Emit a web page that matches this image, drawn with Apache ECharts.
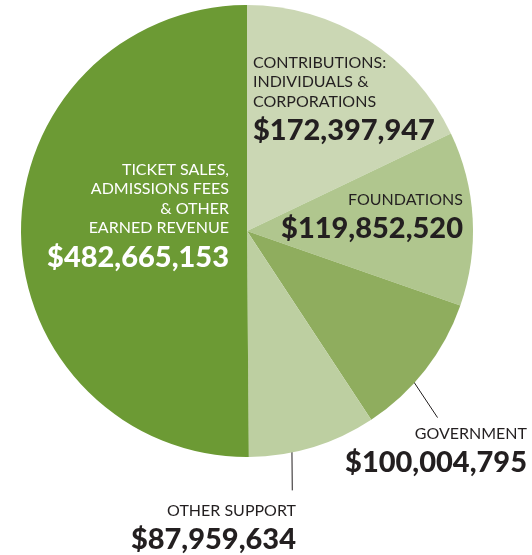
<!DOCTYPE html>
<html>
<head>
<meta charset="utf-8">
<style>
  html, body { margin: 0; padding: 0; background: #ffffff; }
  #chart { width: 532px; height: 555px; }
</style>
<script src="https://cdn.jsdelivr.net/npm/echarts@6/dist/echarts.min.js"></script>
</head>
<body>
<div id="chart"></div>
<script>
// Revenue sources, clockwise from 12 o'clock
const categories = [
  'CONTRIBUTIONS:\nINDIVIDUALS &\nCORPORATIONS',
  'FOUNDATIONS',
  'GOVERNMENT',
  'OTHER SUPPORT',
  'TICKET SALES,\nADMISSIONS FEES\n& OTHER\nEARNED REVENUE'
];
const amounts = [172397947, 119852520, 100004795, 87959634, 482665153];
const sliceColors = ['#cbd7b4', '#b0c68e', '#8fad5e', '#bdcfa1', '#6c9a34'];

// Pie geometry
const CENTER = [247, 231];
const RADIUS = 226;

// Label anchor per slice: x, y (top of text block), alignment, text colour
const labelSpots = [
  { x: 253, y: 53, align: 'left', color: '#231f20' },
  { x: 463, y: 190, align: 'right', color: '#231f20' },
  { x: 527, y: 424, align: 'right', color: '#231f20' },
  { x: 296, y: 501, align: 'right', color: '#231f20' },
  { x: 229, y: 160, align: 'right', color: '#ffffff' }
];

// Leader lines for outside labels: polar angle (deg clockwise from top) and radius fraction
const leaders = {
  2: [{ a: 131.6, r: 0.96 }, { a: 134.4, r: 1.18 }],
  3: [{ a: 168.0, r: 0.955 }, { a: 170.1, r: 1.165 }]
};

function polarPoint(p) {
  const t = p.a * Math.PI / 180;
  return [CENTER[0] + Math.sin(t) * RADIUS * p.r, CENTER[1] - Math.cos(t) * RADIUS * p.r];
}

function money(v) {
  return '$' + v.toLocaleString('en-US');
}

const pieData = categories.map(function (name, i) {
  const outside = leaders[i] !== undefined;
  return {
    name: name,
    value: amounts[i],
    itemStyle: { color: sliceColors[i] },
    label: {
      position: outside ? 'outside' : 'inside',
      color: labelSpots[i].color,
      align: labelSpots[i].align,
      rich: {
        t: { color: labelSpots[i].color, align: labelSpots[i].align },
        v: { color: labelSpots[i].color, align: labelSpots[i].align }
      }
    },
    labelLine: { show: outside }
  };
});

const chart = echarts.init(document.getElementById('chart'), null, { renderer: 'canvas' });

chart.setOption({
  animation: false,
  backgroundColor: '#ffffff',
  series: [{
    type: 'pie',
    center: CENTER,
    radius: [0, RADIUS],
    startAngle: 90,
    clockwise: true,
    avoidLabelOverlap: false,
    data: pieData,
    itemStyle: { borderWidth: 0 },
    emphasis: { disabled: true },
    label: {
      show: true,
      fontFamily: 'Lato',
      formatter: function (p) {
        return p.name.split('\n').map(function (s) { return '{t|' + s + '}'; }).join('\n') +
          '\n{v|' + money(p.value) + '}';
      },
      rich: {
        t: { fontFamily: 'Lato', fontSize: 16, lineHeight: 19.5 },
        v: { fontFamily: 'Lato', fontSize: 29, fontWeight: 900, lineHeight: 39 }
      }
    },
    labelLine: {
      show: false,
      lineStyle: { color: '#231f20', width: 1 }
    },
    labelLayout: function (params) {
      const spot = labelSpots[params.dataIndex];
      const out = {
        x: spot.x,
        y: spot.y,
        align: spot.align,
        verticalAlign: 'top'
      };
      const ld = leaders[params.dataIndex];
      if (ld) {
        const a = polarPoint(ld[0]);
        const b = polarPoint(ld[1]);
        out.labelLinePoints = [a, b, b];
      }
      return out;
    }
  }]
});
</script>
</body>
</html>
